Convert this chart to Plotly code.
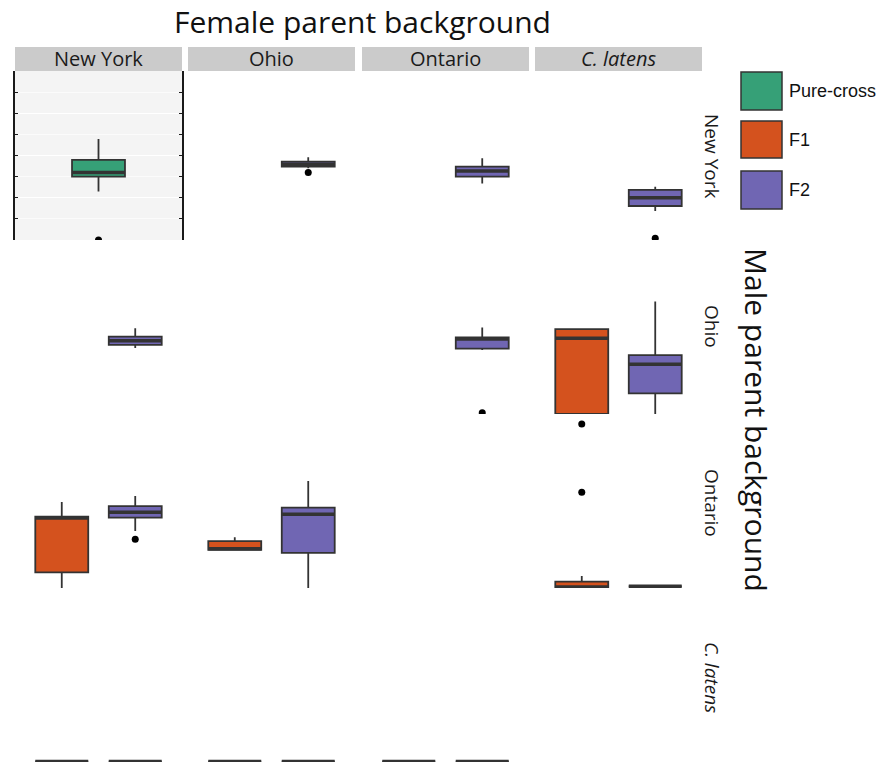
import plotly.graph_objects as go
from plotly.subplots import make_subplots

# ---------------- data ----------------
backgrounds = ["New York", "Ohio", "Ontario", "C. latens"]
cross_types = ["Pure-cross", "F1", "F2"]

# one entry per box (female background, male background, cross type, stats)
box_female = ["New York", "Ohio", "Ontario", "C. latens",
              "New York", "Ontario", "C. latens", "C. latens",
              "New York", "New York", "Ohio", "Ohio", "C. latens", "C. latens",
              "New York", "New York", "Ohio", "Ohio", "Ontario", "Ontario"]
box_male = ["New York", "New York", "New York", "New York",
            "Ohio", "Ohio", "Ohio", "Ohio",
            "Ontario", "Ontario", "Ontario", "Ontario", "Ontario", "Ontario",
            "C. latens", "C. latens", "C. latens", "C. latens", "C. latens", "C. latens"]
box_type = ["Pure-cross", "F2", "F2", "F2",
            "F2", "F2", "F1", "F2",
            "F1", "F2", "F1", "F2", "F1", "F2",
            "F1", "F2", "F1", "F2", "F1", "F2"]
box_lower = [2.29, 3.40, 2.68, 1.37,
             3.12, 3.03, 0.00, 0.00,
             0.00, 2.70, 1.77, 0.00, 0.00, 0.08,
             0.02, 0.02, 0.02, 0.02, 0.02, 0.02]
box_q1 = [3.00, 3.47, 3.00, 1.61,
          3.27, 3.09, 0.00, 0.98,
          0.74, 3.33, 1.80, 1.66, 0.00, 0.08,
          0.02, 0.02, 0.02, 0.02, 0.02, 0.02]
box_median = [3.20, 3.59, 3.27, 2.00,
              3.47, 3.55, 3.58, 2.35,
              3.31, 3.58, 1.86, 3.49, 0.05, 0.08,
              0.02, 0.02, 0.02, 0.02, 0.02, 0.02]
box_q3 = [3.79, 3.71, 3.47, 2.37,
          3.66, 3.63, 4.02, 2.79,
          3.38, 3.88, 2.22, 3.80, 0.30, 0.08,
          0.02, 0.02, 0.02, 0.02, 0.02, 0.02]
box_upper = [4.78, 3.92, 3.87, 2.52,
             4.06, 4.10, 4.02, 5.32,
             4.07, 4.36, 2.40, 5.07, 0.57, 0.08,
             0.02, 0.02, 0.02, 0.02, 0.02, 0.02]

# outliers
out_female = ["New York", "Ohio", "C. latens", "Ontario", "New York", "C. latens", "C. latens"]
out_male = ["New York", "New York", "New York", "Ohio", "Ontario", "Ontario", "Ontario"]
out_type = ["Pure-cross", "F2", "F2", "F2", "F2", "F1", "F1"]
out_value = [0.0, 3.20, 0.08, 0.06, 2.31, 4.53, 7.76]

# ---------------- styling ----------------
colors = {"Pure-cross": "#36A077", "F1": "#D4521E", "F2": "#7066B3"}
positions = {"Pure-cross": 0.5, "F1": 0.28, "F2": 0.72}
BOX_W = 0.317
EDGE = "#333333"
W, H = 884, 764

col_px = [(15, 182), (188, 355), (362, 529), (535, 702)]
row_px = [(71, 240), (245, 414), (419, 588), (593, 762)]

fig = make_subplots(rows=4, cols=4)

def ax_name(kind, r, c):
    n = r * 4 + c + 1
    return f"{kind}axis" if n == 1 else f"{kind}axis{n}"

for r in range(4):
    for c in range(4):
        xa = ax_name("x", r, c)
        ya = ax_name("y", r, c)
        fig.layout[xa].domain = [col_px[c][0] / W, col_px[c][1] / W]
        fig.layout[ya].domain = [1 - row_px[r][1] / H, 1 - row_px[r][0] / H]
        fig.layout[xa].update(range=[0, 1], visible=False, fixedrange=True)
        if r == 0 and c == 0:
            fig.layout[ya].update(
                range=[0, 8], showticklabels=False, zeroline=False,
                showline=True, linecolor="#1a1a1a", linewidth=2, mirror="ticks",
                ticks="inside", ticklen=3, tickcolor="#1a1a1a", tickwidth=1,
                dtick=2, tick0=0, showgrid=True, gridcolor="#FFFFFF", gridwidth=1.4,
                minor=dict(dtick=1, showgrid=True, gridcolor="#FBFBFB", gridwidth=0.8,
                           ticks="inside", ticklen=3, tickcolor="#1a1a1a"),
            )
        else:
            fig.layout[ya].update(range=[0, 8], visible=False)

# grey panel background for top-left panel
fig.add_shape(type="rect", xref="x domain", yref="y domain", x0=0, x1=1, y0=0, y1=1,
              fillcolor="#F4F4F4", line=dict(width=0), layer="below")

for i in range(len(box_type)):
    r = backgrounds.index(box_male[i]) + 1
    c = backgrounds.index(box_female[i]) + 1
    t = box_type[i]
    p = positions[t]
    fig.add_trace(go.Box(
        x=[p], q1=[box_q1[i]], median=[box_median[i]], q3=[box_q3[i]],
        lowerfence=[box_lower[i]], upperfence=[box_upper[i]],
        width=BOX_W, fillcolor=colors[t], line=dict(color=EDGE, width=1.8),
        boxpoints=False, whiskerwidth=0, showlegend=False, hoverinfo="skip",
    ), row=r, col=c)
    fig.add_trace(go.Scatter(
        x=[p - BOX_W / 2, p + BOX_W / 2], y=[box_median[i], box_median[i]],
        mode="lines", line=dict(color=EDGE, width=3.5), showlegend=False,
        hoverinfo="skip",
    ), row=r, col=c)

for i in range(len(out_value)):
    r = backgrounds.index(out_male[i]) + 1
    c = backgrounds.index(out_female[i]) + 1
    fig.add_trace(go.Scatter(
        x=[positions[out_type[i]]], y=[out_value[i]], mode="markers",
        marker=dict(color="black", size=7), showlegend=False, hoverinfo="skip",
    ), row=r, col=c)

# ---------------- strips & labels ----------------
def label(text):
    return "<i>C. latens</i>" if text == "C. latens" else text

for c, (x0, x1) in enumerate(col_px):
    fig.add_shape(type="rect", xref="paper", yref="paper",
                  x0=x0 / W, x1=x1 / W, y0=1 - 71 / H, y1=1 - 47 / H,
                  fillcolor="#CBCBCB", line=dict(width=0))
    fig.add_annotation(xref="paper", yref="paper", x=(x0 + x1) / 2 / W, y=1 - 59 / H,
                       text=label(backgrounds[c]), showarrow=False,
                       font=dict(family="Open Sans", size=20, color="#1a1a1a"),
                       xanchor="center", yanchor="middle")

row_label_y = [156, 326, 503, 677]
for r in range(4):
    fig.add_annotation(xref="paper", yref="paper", x=712 / W, y=1 - row_label_y[r] / H,
                       text=label(backgrounds[r]), showarrow=False, textangle=90,
                       font=dict(family="Open Sans", size=19, color="#1a1a1a"),
                       xanchor="center", yanchor="middle")

fig.add_annotation(xref="paper", yref="paper", x=362 / W, y=1 - 22 / H,
                   text="Female parent background", showarrow=False,
                   font=dict(family="Open Sans", size=30, color="#111111"),
                   xanchor="center", yanchor="middle")
fig.add_annotation(xref="paper", yref="paper", x=757 / W, y=1 - 420 / H,
                   text="Male parent background", showarrow=False, textangle=90,
                   font=dict(family="Open Sans", size=30, color="#111111"),
                   xanchor="center", yanchor="middle")

# ---------------- legend ----------------
legend_rows = [(72, 110), (121, 158), (171, 209)]
for t, (y0, y1) in zip(cross_types, legend_rows):
    fig.add_shape(type="rect", xref="paper", yref="paper",
                  x0=741 / W, x1=782 / W, y0=1 - y1 / H, y1=1 - y0 / H,
                  fillcolor=colors[t], line=dict(color=EDGE, width=1.5))
    fig.add_annotation(xref="paper", yref="paper", x=787 / W, y=1 - (y0 + y1) / 2 / H,
                       text=t, showarrow=False,
                       font=dict(family="Liberation Sans", size=18, color="#111111"),
                       xanchor="left", yanchor="middle")

fig.update_layout(
    width=W, height=H, margin=dict(l=0, r=0, t=0, b=0),
    plot_bgcolor="white", paper_bgcolor="white", showlegend=False,
)

fig.write_html("out.html", config={"displayModeBar": False},
               post_script="document.body.style.margin='0';document.body.style.overflow='hidden';")
